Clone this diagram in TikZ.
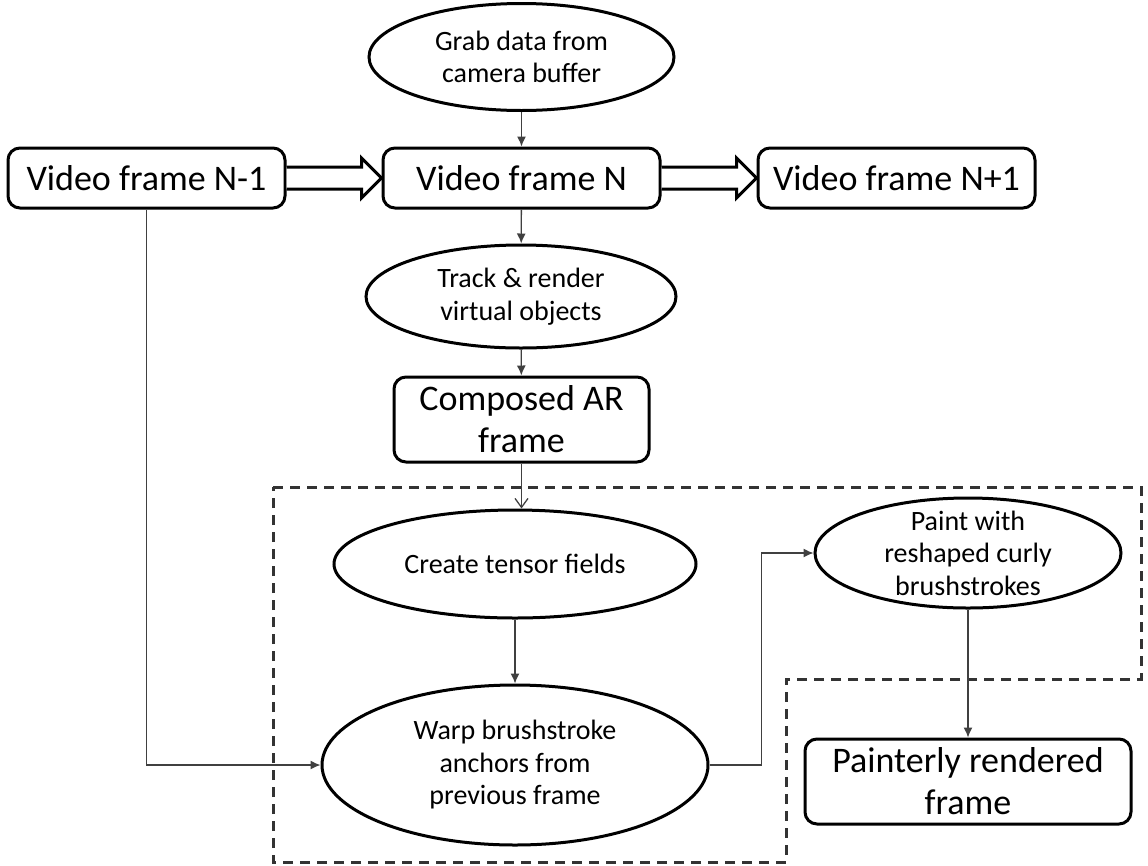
\documentclass[tikz,border=0pt]{standalone}
\usepackage{fontspec}
\setmainfont{Carlito}
\usepackage{tikz}
\usetikzlibrary{arrows.meta,shapes.geometric,calc}

\begin{document}
\begin{tikzpicture}[x=1pt,y=-1pt,node distance=375pt]
    \tikzstyle{framebox}=[draw,line width=3pt,rounded corners=12pt,inner sep=0pt,align=center,font=\fontsize{36}{42}\selectfont]
    \tikzstyle{oval}=[draw,ellipse,line width=3pt,inner xsep=0pt,inner ysep=-14pt,align=center,font=\fontsize{28}{32.5}\selectfont]
    \tikzstyle{link}=[-{Latex[length=10pt,width=9pt]},line width=1.3pt,draw=black!75]
    \tikzstyle{openlink}=[-{Straight Barb[length=9pt,width=13pt]},line width=1.3pt,draw=black!75]
    \tikzstyle{hollow}=[line width=3pt,line join=miter,fill=white]
    \useasboundingbox (0,0) rectangle (1148,865);
    % dashed region
    \draw[line width=3pt,dash pattern=on 10pt off 7pt,draw=black!80]
        (273,487) -- (1141,487) -- (1141,679) -- (786,679) -- (786,862) -- (273,862) -- cycle;
    \node[framebox,minimum width=277pt,minimum height=60pt] (1) at (146.5,178) {Video frame N-1};
    \node[framebox,minimum width=277pt,minimum height=60pt] (2) [right of=1]   {Video frame N};
    \node[framebox,minimum width=277pt,minimum height=60pt] (10) [right of=2]  {Video frame N+1};
    \node[oval,minimum width=305pt,minimum height=107pt] (3) at (521.5,57)  {Grab data from\\camera buffer};
    \node[oval,minimum width=310pt,minimum height=103pt] (4) at (521,296.5) {Track \& render\\virtual objects};
    \node[framebox,minimum width=255pt,minimum height=85pt] (5) at (521.5,419.5) {Composed AR\\frame};
    \node[oval,minimum width=362pt,minimum height=108pt] (6) at (515,564)   {Create tensor fields};
    \node[oval,minimum width=386pt,minimum height=160pt] (7) at (515,765)   {Warp brushstroke\\anchors from\\previous frame};
    \node[oval,minimum width=306pt,minimum height=110pt] (8) at (968,553)   {Paint with\\reshaped curly\\brushstrokes};
    \node[framebox,minimum width=326pt,minimum height=85pt] (9) at (968,781.5) {Painterly rendered\\frame};
    % frame to frame
    \draw[hollow] ($(1.east)+(0,-11)$) -- ($(2.west)+(-20,-11)$) -- ($(2.west)+(-20,-20)$) -- (2.west)
        -- ($(2.west)+(-20,20)$) -- ($(2.west)+(-20,11)$) -- ($(1.east)+(0,11)$);
    \draw[hollow] ($(2.east)+(0,-11)$) -- ($(10.west)+(-20,-11)$) -- ($(10.west)+(-20,-20)$) -- (10.west)
        -- ($(10.west)+(-20,20)$) -- ($(10.west)+(-20,11)$) -- ($(2.east)+(0,11)$);
    \draw[link] (3) -- (2);
    \draw[link] (2) -- (4);
    \draw[link] (4) -- (5);
    \draw[openlink] (5.south) -- (5.south |- 6.north);
    \draw[link] (6) -- (7);
    \draw[link] (1.south) |- (7.west);
    \draw[link] (7.east) -| ($(7.east)!.5!(8.west)$) |- (8.west);
    \draw[link] (8) -- (9);
\end{tikzpicture}
\end{document}
